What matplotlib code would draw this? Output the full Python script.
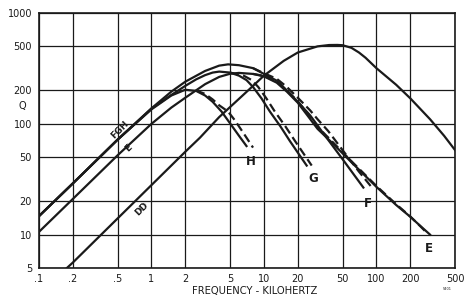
import matplotlib
matplotlib.use("Agg")
import matplotlib.pyplot as plt

# x ticks / y ticks
x_ticks = [0.1, 0.2, 0.5, 1, 2, 5, 10, 20, 50, 100, 200, 500]
x_labels = ['.1', '.2', '.5', '1', '2', '5', '10', '20', '50', '100', '200', '500']
y_ticks = [5, 10, 20, 50, 100, 200, 500, 1000]
y_labels = ['5', '10', '20', '50', '100', '200', '500', '1000']

# curves (frequency in kHz, Q)
h_f = [0.1, 0.2, 0.5, 1, 1.5, 2, 2.5, 3, 3.5, 4.2, 5, 6, 7]
h_q = [14.7, 29, 72, 135, 180, 203, 198, 180, 158, 129, 101, 78, 63]
h_dash_f = [2.5, 3, 3.5, 4, 4.8, 5.5, 6.5, 8]
h_dash_q = [200, 186, 166, 147, 129, 108, 84, 61]

g_f = [0.1, 0.2, 0.5, 1, 1.5, 2, 2.5, 3, 3.5, 4, 5, 6, 7, 8, 9.5, 11.3, 14, 17, 20, 24]
g_q = [14.7, 29, 72, 137, 182, 220, 252, 275, 290, 296, 290, 272, 248, 215, 170, 129, 95, 70, 55, 42]
g_dash_f = [5, 6.6, 7.8, 8.9, 10.5, 12.5, 15.5, 18.9, 22.2, 26.6]
g_dash_q = [290, 272, 248, 215, 170, 129, 95, 70, 55, 42]

f_f = [0.1, 0.2, 0.5, 1, 1.5, 2, 3, 4, 4.8, 6, 8, 10, 13, 16, 20, 25.8, 32.6, 50, 76.6]
f_q = [14.7, 29, 72, 138, 195, 240, 300, 335, 344, 338, 318, 282, 245, 200, 158, 119, 86, 48, 26.6]
f_dash_f = [8, 10, 13, 16, 20, 25.8, 30, 37.3, 50, 70, 91.3]
f_dash_q = [318, 286, 255, 215, 172, 132, 110, 86, 58, 37, 26.6]

e_f = [0.1, 0.2, 0.5, 1, 1.5, 2, 3, 4, 5, 6, 8, 10, 13, 16, 20, 25, 30, 40, 60, 100, 150, 200, 250, 300]
e_q = [10.6, 21, 52, 100, 140, 172, 228, 265, 283, 288, 282, 268, 235, 195, 155, 115, 90, 68, 45, 27, 18.5, 14.5, 11.8, 10]
e_dash_f = [8, 10, 13, 16, 20, 25, 30, 40, 60, 100, 150, 200, 250, 270]
e_dash_q = [282, 271, 240, 200, 160, 120, 94, 70, 46, 27.5, 18.8, 14.6, 11.7, 10.8]

dd_f = [0.177, 0.2, 0.5, 1, 2, 2.7, 4, 6, 8, 10, 15, 20, 30, 38, 45, 50, 60, 70, 80, 100, 150, 200, 300, 400, 500]
dd_q = [5, 5.6, 14, 28, 56, 75, 115, 168, 220, 272, 370, 440, 500, 514, 515, 512, 485, 440, 395, 318, 225, 170, 110, 78, 58]

ink = '#1a1a1a'

fig = plt.figure(figsize=(4.65, 2.97), dpi=100)
ax = fig.add_axes([39/465, 1 - 268/297, (455 - 39)/465, (268 - 13)/297])
ax.set_xscale('log')
ax.set_yscale('log')
ax.set_xlim(0.1, 500)
ax.set_ylim(5, 1000)

ax.set_xticks(x_ticks)
ax.set_xticklabels(x_labels)
ax.set_yticks(y_ticks)
ax.set_yticklabels(y_labels)
ax.minorticks_off()
ax.tick_params(length=0, labelsize=7, colors=ink)
ax.tick_params(axis='x', pad=4)
ax.tick_params(axis='y', pad=5)
ax.grid(True, color=ink, lw=0.9)
for s in ax.spines.values():
    s.set_color(ink)
    s.set_linewidth(1.2)

lw = 1.6
ax.plot(h_f, h_q, color=ink, lw=lw)
ax.plot(h_dash_f, h_dash_q, color=ink, lw=lw, ls=(0, (4, 2)))
ax.plot(g_f, g_q, color=ink, lw=lw)
ax.plot(g_dash_f, g_dash_q, color=ink, lw=lw, ls=(0, (4, 2)))
ax.plot(f_f, f_q, color=ink, lw=lw)
ax.plot(f_dash_f, f_dash_q, color=ink, lw=lw, ls=(0, (4, 2)))
ax.plot(e_f, e_q, color=ink, lw=lw)
ax.plot(e_dash_f, e_dash_q, color=ink, lw=lw, ls=(0, (4, 2)))
ax.plot(dd_f, dd_q, color=ink, lw=lw)

# curve labels
ax.text(0.52, 89, 'FGH', rotation=45, fontsize=6.5, color=ink, ha='center', va='center', fontweight='bold')
ax.text(0.62, 60, 'E', rotation=45, fontsize=6.5, color=ink, ha='center', va='center', fontweight='bold')
ax.text(0.81, 17, 'DD', rotation=45, fontsize=6.5, color=ink, ha='center', va='center', fontweight='bold')
ax.text(7.66, 46, 'H', fontsize=8.5, color=ink, ha='center', va='center', fontweight='bold')
ax.text(27.3, 32.4, 'G', fontsize=8.5, color=ink, ha='center', va='center', fontweight='bold')
ax.text(84.5, 19, 'F', fontsize=8.5, color=ink, ha='center', va='center', fontweight='bold')
ax.text(290, 7.5, 'E', fontsize=8.5, color=ink, ha='center', va='center', fontweight='bold')

fig.text(22/465, 1 - 106/297, 'Q', fontsize=7, color=ink, ha='center', va='center')
fig.text(255/465, 1 - 291/297, 'FREQUENCY - KILOHERTZ', fontsize=7.2, color=ink, ha='center', va='center')
fig.text(447/465, 1 - 289/297, '5401', fontsize=2.5, color=ink, ha='center', va='center')

fig.savefig('out.png', dpi=100)
